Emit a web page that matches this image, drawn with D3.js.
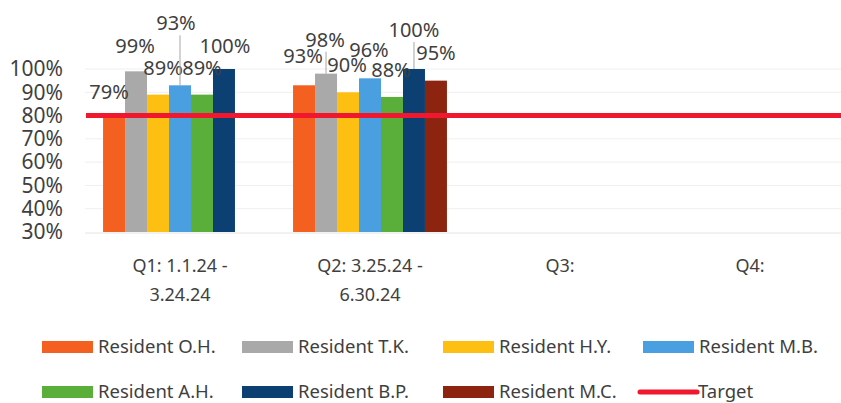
<!DOCTYPE html>
<html>
<head>
<meta charset="utf-8">
<script src="https://cdn.jsdelivr.net/npm/d3@7"></script>
<style>
  html, body { margin: 0; padding: 0; background: #fff; }
  svg { display: block; font-family: "Noto Sans", "Open Sans", sans-serif; }
</style>
</head>
<body>
<svg id="chart" width="841" height="403"></svg>
<script>
// quarters shown on the x axis (two lines each)
const quarters = ["Q1", "Q2", "Q3", "Q4"];
const quarterLabels = [
  ["Q1: 1.1.24 -", "3.24.24"],
  ["Q2: 3.25.24 -", "6.30.24"],
  ["Q3:"],
  ["Q4:"],
];

const residents = [
  "Resident O.H.", "Resident T.K.", "Resident H.Y.", "Resident M.B.",
  "Resident A.H.", "Resident B.P.", "Resident M.C.",
];
const residentColors = [
  "#f4601f", "#a9a9a9", "#fdbf12", "#4a9fe0",
  "#5aae3a", "#0c3f72", "#8c2410",
];

// compliance per quarter, one value per resident (null = no bar)
const q1Values = [0.79, 0.99, 0.89, 0.93, 0.89, 1.00, null];
const q2Values = [0.93, 0.98, 0.90, 0.96, 0.88, 1.00, 0.95];
const q3Values = [null, null, null, null, null, null, null];
const q4Values = [null, null, null, null, null, null, null];
const allValues = [q1Values, q2Values, q3Values, q4Values];

const target = 0.80;
const yTicks = [0.3, 0.4, 0.5, 0.6, 0.7, 0.8, 0.9, 1.0];

// hand-placed data labels in the original: [dx, extra lift]
const q1LabelNudge = [[-5, 1], [-1, 0], [5, 2], [-4, 37], [0, 2], [1, -2], [0, 0]];
const q2LabelNudge = [[-1, 4], [-1, 9], [-1, 2], [-1, 3], [-1, 2], [0, 14], [0, 3]];
const labelNudges = [q1LabelNudge, q2LabelNudge];

const svg = d3.select("#chart");
const textColor = "#3f3f3f";

const x = d3.scaleBand()
  .domain(quarters)
  .range([85, 845])
  .paddingInner(0.19)
  .paddingOuter(0.095);

const xRes = d3.scaleBand()
  .domain(d3.range(residents.length))
  .range([0, x.bandwidth()]);

const y = d3.scaleLinear().domain([0.3, 1.0]).range([232, 69]);

// faint gridlines
svg.append("g")
  .selectAll("line")
  .data(yTicks.slice(1))
  .join("line")
  .attr("x1", 85).attr("x2", 841)
  .attr("y1", (d) => y(d)).attr("y2", (d) => y(d))
  .attr("stroke", "#efefef")
  .attr("stroke-width", 1);

// y axis labels
const yAxis = svg.append("g")
  .attr("transform", "translate(69,0)")
  .call(d3.axisLeft(y).tickValues(yTicks).tickFormat(d3.format(".0%")).tickSize(0).tickPadding(6));
yAxis.select(".domain").remove();
yAxis.selectAll("text")
  .attr("font-size", 21)
  .attr("fill", textColor)
  .attr("font-family", "Noto Sans");

// bars
const groups = svg.append("g")
  .selectAll("g")
  .data(quarters)
  .join("g")
  .attr("transform", (q) => `translate(${x(q)},0)`);

groups.each(function (q, qi) {
  const vals = allValues[qi].map((v, i) => ({ v, i })).filter((d) => d.v !== null);
  const g = d3.select(this);
  g.selectAll("rect")
    .data(vals)
    .join("rect")
    .attr("x", (d) => xRes(d.i))
    .attr("width", xRes.bandwidth())
    .attr("y", (d) => y(d.v))
    .attr("height", (d) => y(0.3) - y(d.v))
    .attr("fill", (d) => residentColors[d.i]);
});

// bottom axis line
svg.append("line")
  .attr("x1", 85).attr("x2", 841)
  .attr("y1", 233).attr("y2", 233)
  .attr("stroke", "#e4e4e4");

// target line
svg.append("line")
  .attr("x1", 86).attr("x2", 841)
  .attr("y1", y(target)).attr("y2", y(target))
  .attr("stroke", "#f0182e")
  .attr("stroke-width", 5);

// data labels
groups.each(function (q, qi) {
  const nudges = labelNudges[qi];
  if (!nudges) return;
  const vals = allValues[qi].map((v, i) => ({ v, i })).filter((d) => d.v !== null);
  const g = d3.select(this);
  vals.forEach((d) => {
    const [dx, lift] = nudges[d.i];
    const cx = xRes(d.i) + xRes.bandwidth() / 2;
    const base = y(d.v) - 18 - lift;
    if (lift >= 8) {
      g.append("line")
        .attr("x1", cx).attr("x2", cx)
        .attr("y1", base + 5).attr("y2", y(d.v))
        .attr("stroke", "#a6a6a6")
        .attr("stroke-width", 1);
    }
    g.append("text")
      .attr("x", cx + dx)
      .attr("y", base)
      .attr("text-anchor", "middle")
      .attr("font-size", 20)
      .attr("fill", textColor)
      .text(d3.format(".0%")(d.v));
  });
});

// x axis category labels
svg.append("g")
  .selectAll("text")
  .data(quarters)
  .join("text")
  .attr("x", (q) => x(q) + x.bandwidth() / 2)
  .attr("y", 272)
  .attr("text-anchor", "middle")
  .attr("font-size", 18)
  .attr("fill", textColor)
  .each(function (q, i) {
    d3.select(this).selectAll("tspan")
      .data(quarterLabels[i])
      .join("tspan")
      .attr("x", x(q) + x.bandwidth() / 2)
      .attr("dy", (d, j) => (j === 0 ? 0 : 29))
      .text((d) => d);
  });

// legend: two rows of four
const legendItems = residents.map((r, i) => ({ name: r, color: residentColors[i], kind: "bar" }));
legendItems.push({ name: "Target", color: "#f0182e", kind: "line" });
const legendCols = [42, 242, 443, 643];
const legendRows = [347, 392];

const legend = svg.append("g")
  .selectAll("g")
  .data(legendItems)
  .join("g")
  .attr("transform", (d, i) => `translate(${legendCols[i % 4]},${legendRows[Math.floor(i / 4)]})`);

legend.filter((d) => d.kind === "bar")
  .append("rect")
  .attr("x", 0).attr("y", -6)
  .attr("width", 51).attr("height", 12)
  .attr("fill", (d) => d.color);

legend.filter((d) => d.kind === "line")
  .append("line")
  .attr("x1", -3).attr("x2", 54)
  .attr("y1", 0).attr("y2", 0)
  .attr("stroke", (d) => d.color)
  .attr("stroke-width", 5)
  .attr("stroke-linecap", "round");

legend.append("text")
  .attr("x", (d) => (d.kind === "line" ? 55 : 56))
  .attr("y", 6)
  .attr("font-size", 18.5)
  .attr("fill", textColor)
  .text((d) => d.name);
</script>
</body>
</html>
